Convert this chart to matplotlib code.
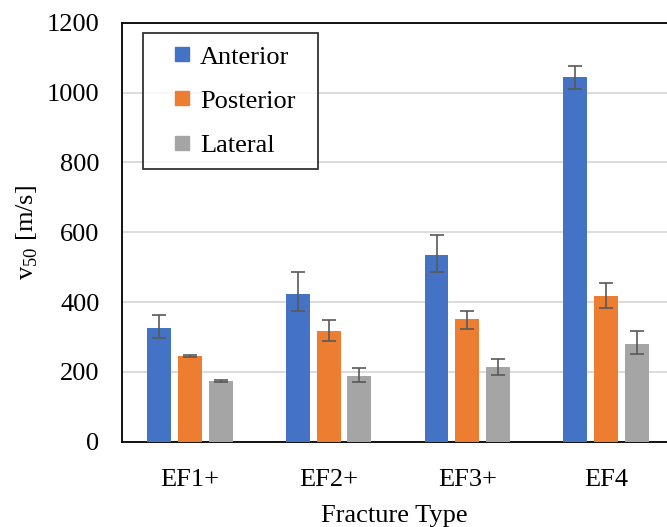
import numpy as np
import matplotlib
matplotlib.use("Agg")
import matplotlib.pyplot as plt
from matplotlib.lines import Line2D

plt.rcParams['font.family'] = ['Liberation Serif', 'DejaVu Serif']
plt.rcParams['mathtext.fontset'] = 'custom'
plt.rcParams['mathtext.rm'] = 'Liberation Serif'

categories = ['EF1+', 'EF2+', 'EF3+', 'EF4']
series_names = ['Anterior', 'Posterior', 'Lateral']
anterior = [325, 423, 535, 1045]
posterior = [245, 318, 351, 417]
lateral = [174, 187, 213, 279]
anterior_err_lo = [29, 48, 49, 35]
anterior_err_hi = [37, 63, 56, 32]
posterior_err_lo = [2, 30, 27, 35]
posterior_err_hi = [2, 31, 24, 37]
lateral_err_lo = [2, 16, 22, 28]
lateral_err_hi = [2, 25, 24, 37]

colors = ['#4472C4', '#ED7D31', '#A5A5A5']

fig = plt.figure(figsize=(6.67, 5.27), dpi=100)
ax = fig.add_axes([0.1825, 0.1619, 0.8175, 0.795])

x = np.arange(len(categories))
width = 0.172
offset = 0.222
values = [anterior, posterior, lateral]
errs = [(anterior_err_lo, anterior_err_hi),
        (posterior_err_lo, posterior_err_hi),
        (lateral_err_lo, lateral_err_hi)]

for i, (vals, err) in enumerate(zip(values, errs)):
    ax.bar(x + (i - 1) * offset, vals, width, color=colors[i],
           label=series_names[i], zorder=3,
           yerr=[err[0], err[1]],
           error_kw=dict(ecolor='#595959', elinewidth=1.2, capsize=5, capthick=1.2, zorder=4))

ax.set_ylim(0, 1200)
ax.set_yticks(np.arange(0, 1201, 200))
ax.set_xlim(-0.492, 3.44)
ax.set_xticks(x)
ax.set_xticklabels(categories)
ax.yaxis.grid(True, color='#D9D9D9', linewidth=1.3, zorder=0)
ax.set_axisbelow(True)
ax.tick_params(axis='both', length=0, labelsize=19)
ax.tick_params(axis='y', pad=16)
ax.tick_params(axis='x', pad=20)
for s in ['left', 'bottom', 'top']:
    ax.spines[s].set_linewidth(1.3)
    ax.spines[s].set_color('black')
ax.spines['right'].set_visible(False)

ax.set_xlabel('Fracture Type', fontsize=19, labelpad=10)
ax.set_ylabel(r'v$_{\mathregular{50}}$ [m/s]', fontsize=19, labelpad=5)

# square markers, spaced like the original legend box
handles = [Line2D([], [], linestyle='none', marker='s', markersize=9.8,
                  markerfacecolor=c, markeredgecolor=c) for c in colors]
leg = ax.legend(handles, series_names, loc='upper left',
                bbox_to_anchor=(0.0385, 0.9747 - 0.318, 0.322, 0.318), mode='expand',
                fontsize=19, frameon=True, fancybox=False, edgecolor='black',
                handlelength=2.1, handletextpad=-0.38, numpoints=1,
                labelspacing=0.78, borderpad=0.45, borderaxespad=0)
leg.get_frame().set_linewidth(1.3)

fig.savefig('out.png', dpi=100)
